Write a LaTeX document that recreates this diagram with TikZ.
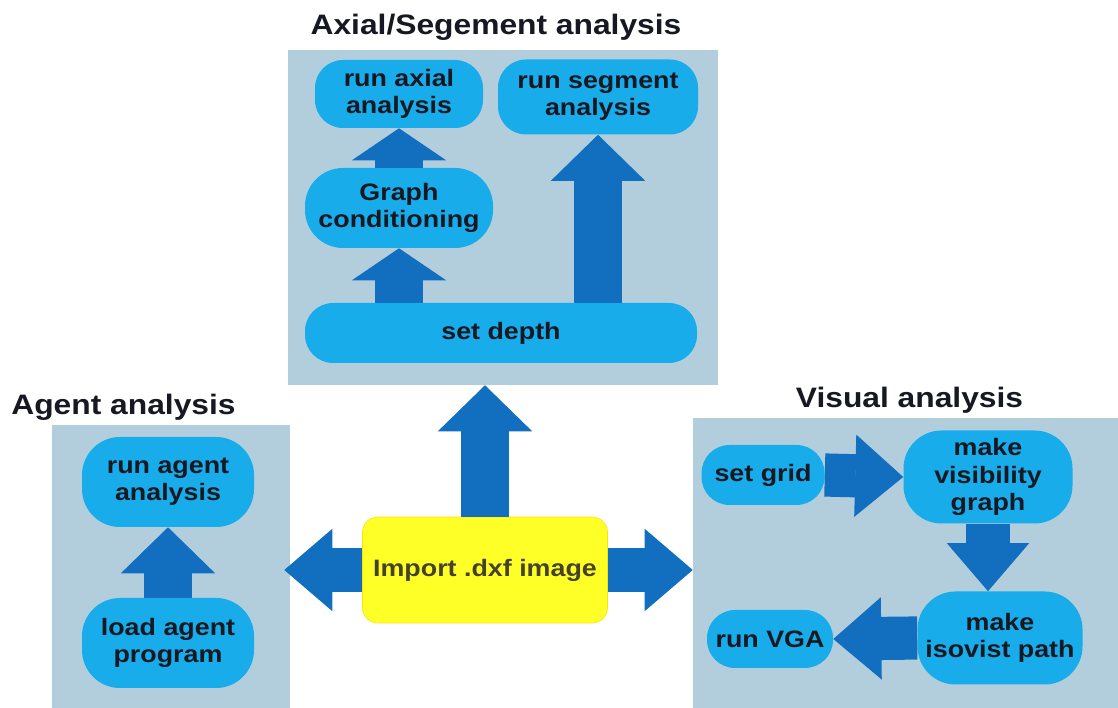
\documentclass[tikz,border=0pt]{standalone}
\usepackage{fontspec}
\setmainfont[FakeStretch=1.13]{Liberation Sans}
\usepackage{tikz}
\usetikzlibrary{arrows.meta}
\usetikzlibrary{calc}

\definecolor{panelblue}{RGB}{178,206,221}
\definecolor{boxblue}{RGB}{24,172,234}
\definecolor{arrowblue}{RGB}{18,110,190}
\definecolor{importyellow}{RGB}{255,255,40}
\definecolor{textdark}{RGB}{22,24,34}
\definecolor{importtext}{RGB}{70,66,40}

\begin{document}
\begin{tikzpicture}[
        panel_style/.style={rectangle,fill=panelblue,inner sep=0pt},
        title_style/.style={anchor=base,text=textdark,font=\fontsize{20}{24}\selectfont\bfseries},
        box_style/.style={rectangle,rounded corners=0.7cm,fill=boxblue,align=center,inner sep=2pt,
            text=textdark,font=\fontsize{16.9}{19.5}\selectfont\bfseries},
        tall_box_style/.style={box_style,rounded corners=0.95cm},
        import_style/.style={rectangle,rounded corners=0.38cm,fill=importyellow,draw=yellow!85!orange,
            align=center,text=importtext,font=\fontsize{16.9}{19.5}\selectfont\bfseries},
        big_arrow/.style={draw=arrowblue,line width=1.2cm,-{Triangle[width=2.35cm,length=1.15cm,line width=1pt]}},
        small_arrow/.style={draw=arrowblue,line width=1.2cm,-{Triangle[width=2.35cm,length=0.8cm,line width=1pt]}},
        side_arrow/.style={draw=arrowblue,line width=1.08cm,-{Triangle[width=2.05cm,length=1.2cm,line width=1pt]}}]

        \useasboundingbox (0,0) rectangle (27.95,17.7);

        % the three panels and their headings
        \node [panel_style,minimum width=10.75cm,minimum height=8.375cm](axial_panel) at (12.575,12.263) {};
        \node [panel_style,minimum width=5.95cm,minimum height=7.075cm](agent_panel) at (4.275,3.538) {};
        \node [panel_style,minimum width=10.625cm,minimum height=7.25cm](visual_panel) at (22.638,3.625) {};

        \node [title_style](axial_title) at (12.4,16.825) {Axial/Segement analysis};
        \node [title_style](agent_title) at (3.088,7.325) {Agent analysis};
        \node [title_style](visual_title) at (22.738,7.5) {Visual analysis};

        % axial / segment steps
        \node [box_style,minimum width=4.2cm,minimum height=1.7cm](axial) at (9.975,15.35) {run axial\\analysis};
        \node [box_style,minimum width=5.0cm,minimum height=1.875cm](segment) at (14.95,15.275) {run segment\\analysis};
        \node [tall_box_style,minimum width=4.7cm,minimum height=2.0cm](graph) at (9.975,12.5) {Graph\\conditioning};
        \node [box_style,minimum width=9.8cm,minimum height=1.5cm](depth) at (12.525,9.375) {set depth};

        % agent steps
        \node [tall_box_style,minimum width=4.3cm,minimum height=2.25cm](agent_run) at (4.2,5.65) {run agent\\analysis};
        \node [tall_box_style,minimum width=4.3cm,minimum height=2.25cm](agent_load) at (4.2,1.625) {load agent\\program};

        % import in the middle
        \node [import_style,minimum width=6.125cm,minimum height=2.65cm](import) at (12.125,3.45) {Import .dxf image};

        % visual steps
        \node [box_style,minimum width=3.075cm,minimum height=1.5cm](grid) at (19.075,5.825) {set grid};
        \node [tall_box_style,minimum width=4.225cm,minimum height=2.325cm](visib) at (24.7,5.775) {make\\visibility\\graph};
        \node [tall_box_style,minimum width=4.125cm,minimum height=2.325cm](isovist) at (25.0,1.75) {make\\isovist path};
        \node [box_style,minimum width=3.15cm,minimum height=1.45cm](vga) at (19.25,1.725) {run VGA};

        \draw [small_arrow] (graph.north) -- (axial.south);
        \draw [small_arrow] (depth.north -| graph.south) -- (graph.south);
        \draw [big_arrow] (depth.north -| segment.south) -- (segment.south);

        \draw [big_arrow] (agent_load.north) -- (agent_run.south);

        \draw [big_arrow] (import.north) -- (import.north |- axial_panel.south);
        \draw [side_arrow] (import.west) -- ($(import.west -| agent_panel.east)+(-0.15,0)$);
        \draw [side_arrow] (import.east) -- (import.east -| visual_panel.west);

        \draw [side_arrow] (grid.east) -- (visib.west);
        \draw [side_arrow] (visib.south) -- (visib.south |- isovist.north);
        \draw [side_arrow] (isovist.west) -- (vga.east);

\end{tikzpicture}
\end{document}
